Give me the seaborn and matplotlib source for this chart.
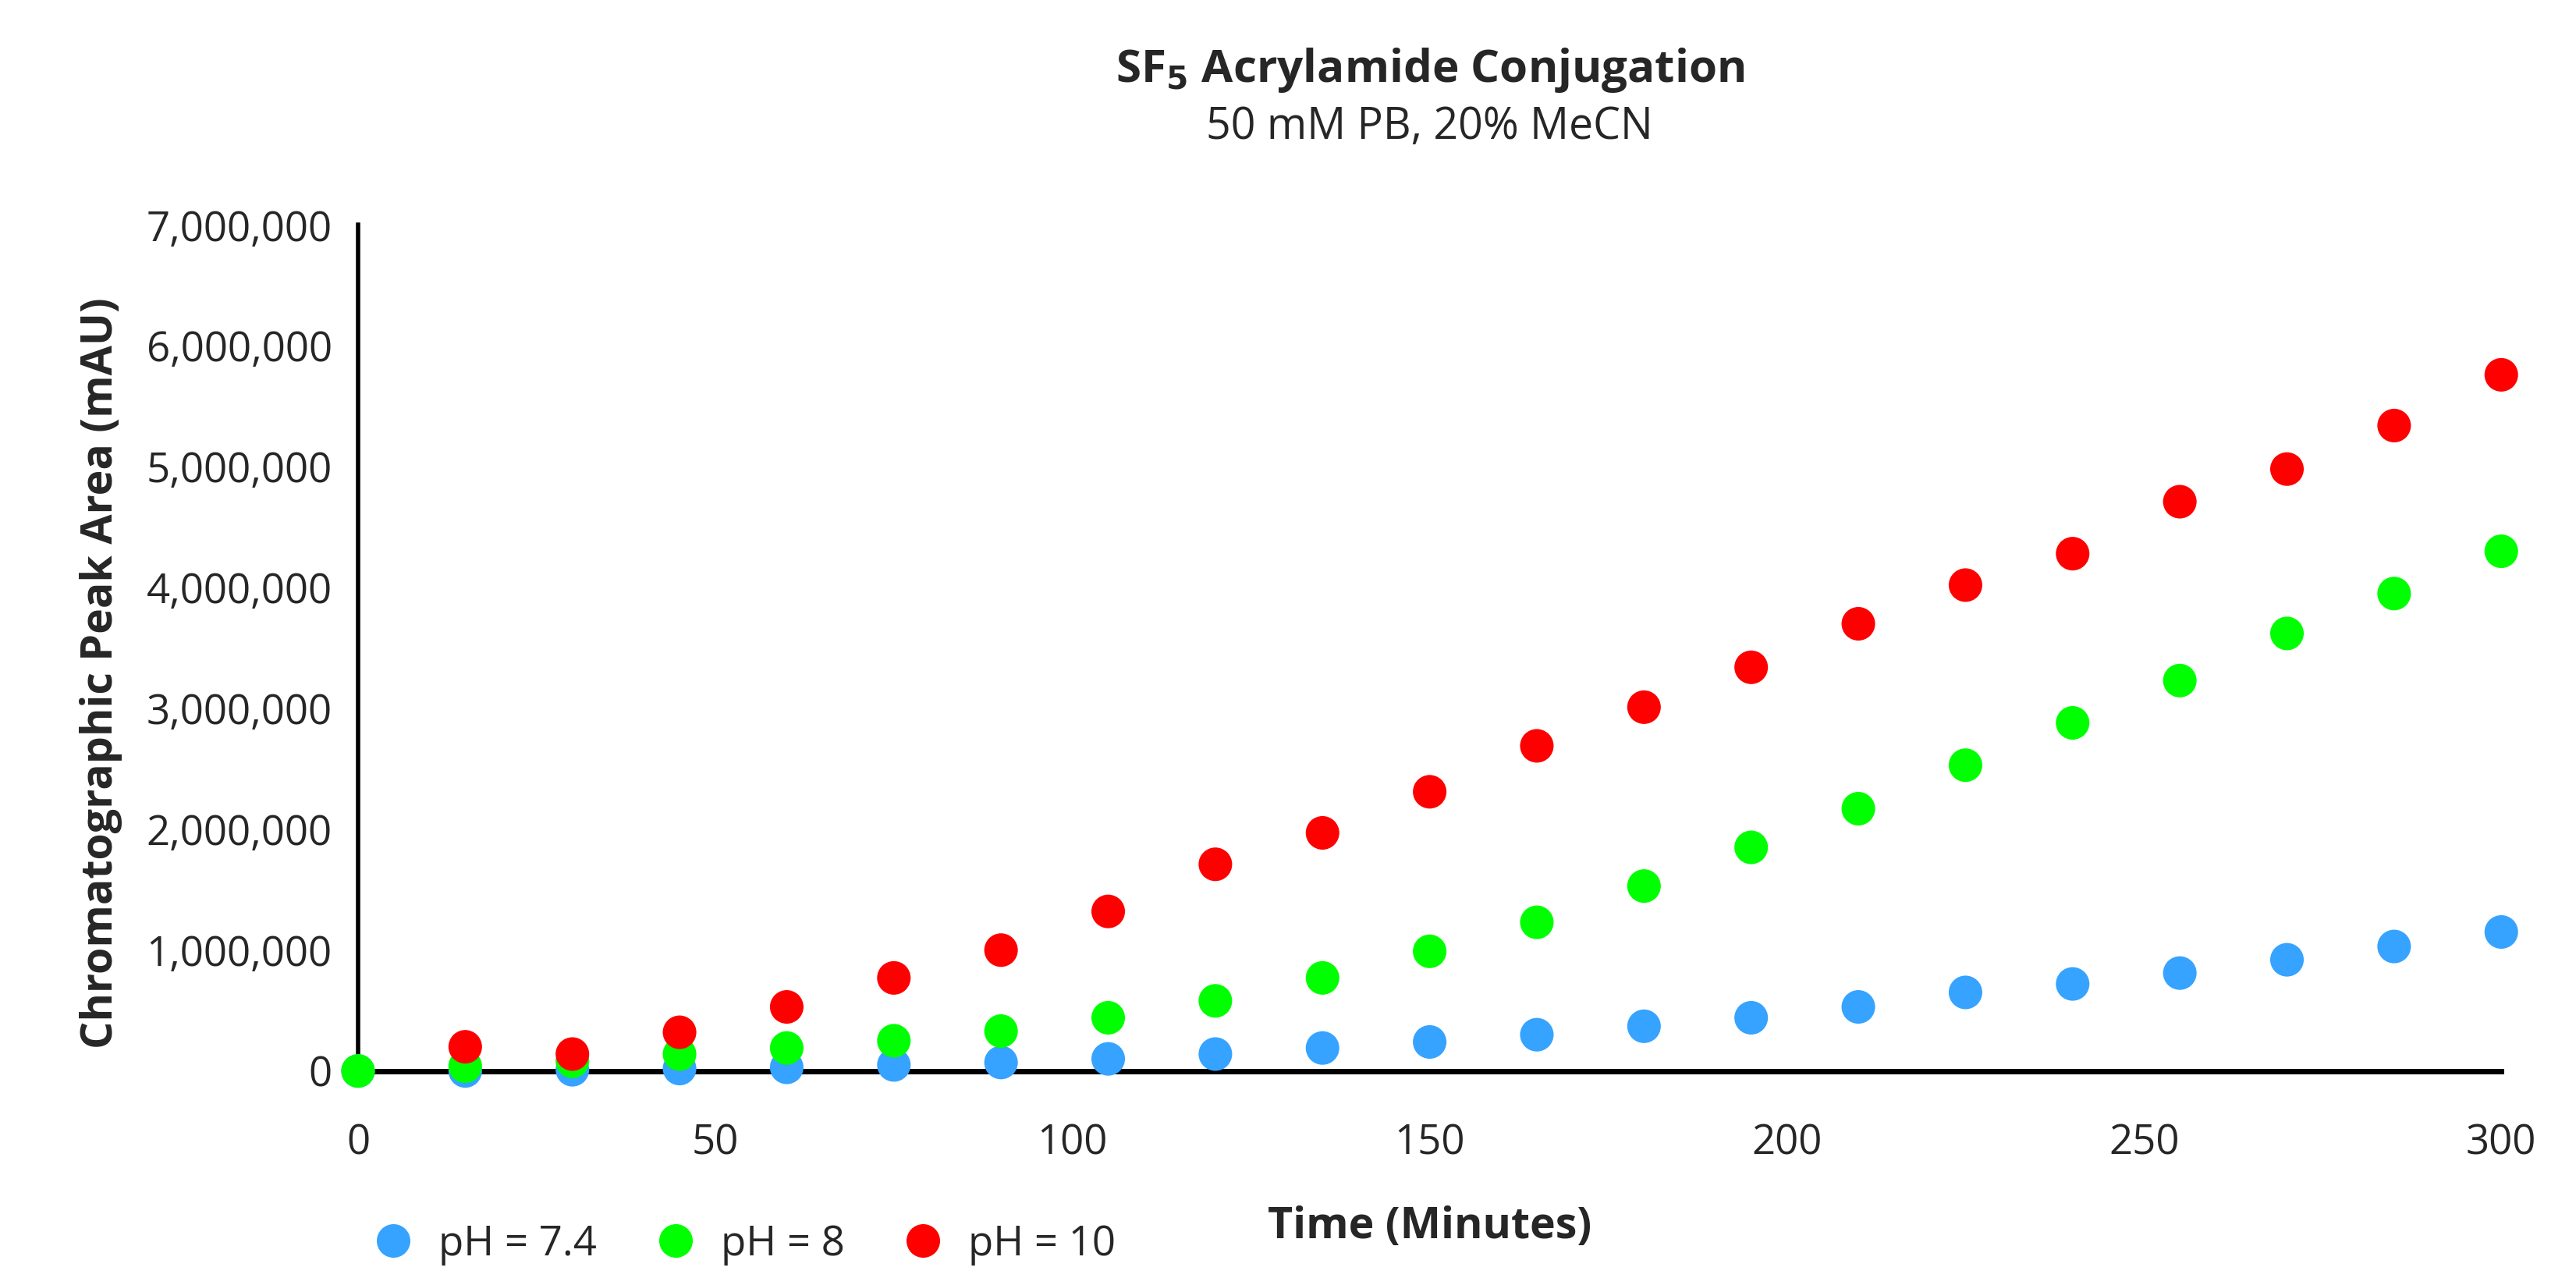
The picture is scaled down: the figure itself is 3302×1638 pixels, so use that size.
import matplotlib
matplotlib.use("Agg")
import matplotlib.pyplot as plt
import seaborn as sns
import pandas as pd
import numpy as np

sns.set_style("white")
plt.rcParams['font.family'] = ['Open Sans', 'DejaVu Sans']

# Time points (minutes)
time_min = [0, 15, 30, 45, 60, 75, 90, 105, 120, 135, 150, 165, 180, 195, 210, 225, 240, 255, 270, 285, 300]

# Peak areas (millions of mAU)
ph74 = [0.0, 0.0, 0.01, 0.02, 0.03, 0.05, 0.07, 0.10, 0.14, 0.19, 0.24, 0.30, 0.37, 0.44, 0.53,
        0.65, 0.72, 0.81, 0.92, 1.03, 1.15]
ph8 = [0.0, 0.04, 0.08, 0.14, 0.19, 0.25, 0.33, 0.44, 0.58, 0.77, 0.99, 1.23, 1.53, 1.85, 2.17,
       2.53, 2.88, 3.23, 3.62, 3.95, 4.30]
ph10 = [np.nan, 0.20, 0.14, 0.32, 0.53, 0.77, 1.00, 1.32, 1.71, 1.97, 2.31, 2.69, 3.01, 3.34, 3.70,
        4.02, 4.28, 4.71, 4.98, 5.34, 5.76]

series_labels = ['pH = 7.4', 'pH = 8', 'pH = 10']
series_colors = ['#35A3FF', '#00FF00', '#FF0000']

rows = []
for label, vals in zip(series_labels, [ph74, ph8, ph10]):
    for t, v in zip(time_min, vals):
        if not np.isnan(v):
            rows.append({'Time': t, 'Area': v * 1e6, 'Series': label})
df = pd.DataFrame(rows)

fig = plt.figure(figsize=(16.51, 8.19), dpi=200)
ax = fig.add_axes([0.139, 0.162, 0.832, 0.662])

ax.spines['left'].set_linewidth(2)
ax.spines['bottom'].set_linewidth(2.5)
ax.spines['left'].set_color('black')
ax.spines['bottom'].set_color('black')
for s in ['top', 'right']:
    ax.spines[s].set_visible(False)

sns.scatterplot(data=df, x='Time', y='Area', hue='Series', hue_order=series_labels,
                palette=series_colors, s=240, edgecolor='none', ax=ax, legend=True,
                zorder=5, clip_on=False)

ax.set_xlim(0, 300)
ax.set_ylim(0, 7e6)
ax.set_xticks(np.arange(0, 301, 50))
ax.set_yticks(np.arange(0, 7e6 + 1, 1e6))
ax.yaxis.set_major_formatter(plt.FuncFormatter(lambda x, p: f'{x:,.0f}'))
ax.tick_params(axis='both', labelsize=19, length=0, pad=12)
ax.tick_params(axis='x', pad=24)

ax.set_xlabel('')
ax.set_ylabel('Chromatographic Peak Area (mAU)', fontsize=20, fontweight='bold')
ax.yaxis.set_label_coords(-0.11, 0.47)

fig.text(0.555, 0.04, 'Time (Minutes)', fontsize=20, fontweight='bold', ha='center', va='center')

ax.legend(loc='center left', bbox_to_anchor=(-0.02, -0.205), ncol=3, frameon=False,
          fontsize=19, handletextpad=0.1, columnspacing=0.9)

fig.text(0.555, 0.945, r'SF$_\mathbf{5}$ Acrylamide Conjugation', fontsize=21, fontweight='bold',
         ha='center', va='center')
fig.text(0.555, 0.9, '50 mM PB, 20% MeCN', fontsize=20, ha='center', va='center')

fig.savefig('out.png', dpi=200)
